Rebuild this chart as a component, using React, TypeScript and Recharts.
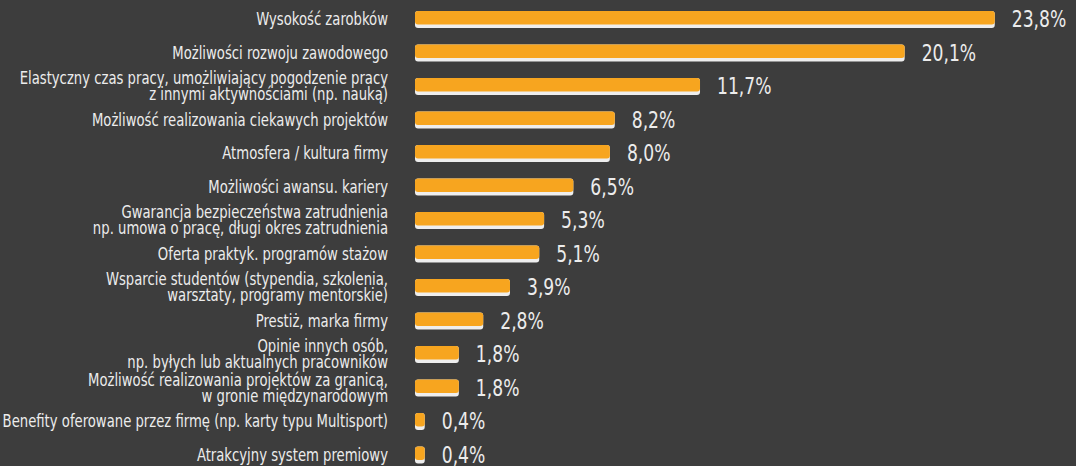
import { Bar, BarChart, LabelList, XAxis, YAxis } from 'recharts';

const categories = [
  'Wysokość zarobków',
  'Możliwości rozwoju zawodowego',
  'Elastyczny czas pracy, umożliwiający pogodzenie pracy\nz innymi aktywnościami (np. nauką)',
  'Możliwość realizowania ciekawych projektów',
  'Atmosfera / kultura firmy',
  'Możliwości awansu. kariery',
  'Gwarancja bezpieczeństwa zatrudnienia\nnp. umowa o pracę, długi okres zatrudnienia',
  'Oferta praktyk. programów stażow',
  'Wsparcie studentów (stypendia, szkolenia,\nwarsztaty, programy mentorskie)',
  'Prestiż, marka firmy',
  'Opinie innych osób,\nnp. byłych lub aktualnych pracowników',
  'Możliwość realizowania projektów za granicą,\nw gronie międzynarodowym',
  'Benefity oferowane przez firmę (np. karty typu Multisport)',
  'Atrakcyjny system premiowy',
];

const values = [23.8, 20.1, 11.7, 8.2, 8.0, 6.5, 5.3, 5.1, 3.9, 2.8, 1.8, 1.8, 0.4, 0.4];

const data = categories.map((name, i) => ({ name, value: values[i] }));

const BG = '#3d3d3d';
const ORANGE = '#f7a51f';
const TEXT = '#ececec';
const FONT = '"DejaVu Sans Condensed", "DejaVu Sans", sans-serif';

// the original uses a condensed face, so squeeze the text horizontally
function CategoryTick(props: any) {
  const { y, payload } = props;
  const lines: string[] = String(payload.value).split('\n');
  const lineH = 16;
  const start = -((lines.length - 1) * lineH) / 2 - 1;
  return (
    <g transform={`translate(388,${y}) scale(0.865,1)`}>
      <text
        x={0}
        y={0}
        textAnchor="end"
        fill={TEXT}
        fontSize={17}
        fontFamily={FONT}
        dominantBaseline="central"
      >
        {lines.map((line, i) => (
          <tspan key={i} x={0} dy={i === 0 ? start : lineH}>
            {line}
          </tspan>
        ))}
      </text>
    </g>
  );
}

function ValueLabel(props: any) {
  const { x, y, width, height, value } = props;
  const txt = `${Number(value).toFixed(1).replace('.', ',')}%`;
  return (
    <g transform={`translate(${x + width + 17},${y + height / 2 - 0.5}) scale(0.83,1)`}>
      <text x={0} y={0} fill={TEXT} fontSize={23} fontFamily={FONT} dominantBaseline="central">
        {txt}
      </text>
    </g>
  );
}

function BarShape(props: any) {
  const { x, y, width, height } = props;
  if (!width || width <= 0) return null;
  return (
    <g>
      <rect x={x} y={y} width={width} height={height} rx={3} ry={3} fill="#eeeeee" />
      <rect x={x} y={y} width={width} height={height - 3.5} rx={3} ry={3} fill={ORANGE} />
    </g>
  );
}

export default function App() {
  return (
    <div
      style={{
        position: 'fixed',
        top: 0,
        left: 0,
        width: 1076,
        height: 466,
        overflow: 'hidden',
        background: BG,
      }}
    >
      <BarChart
        width={1076}
        height={472}
        data={data}
        layout="vertical"
        margin={{ top: 3, right: 52, bottom: 0, left: 0 }}
      >
        <XAxis type="number" domain={[0, 25]} hide />
        <YAxis
          type="category"
          dataKey="name"
          width={415}
          axisLine={false}
          tickLine={false}
          interval={0}
          tick={<CategoryTick />}
        />
        <Bar dataKey="value" barSize={17} shape={<BarShape />} isAnimationActive={false}>
          <LabelList dataKey="value" content={<ValueLabel />} />
        </Bar>
      </BarChart>
    </div>
  );
}
